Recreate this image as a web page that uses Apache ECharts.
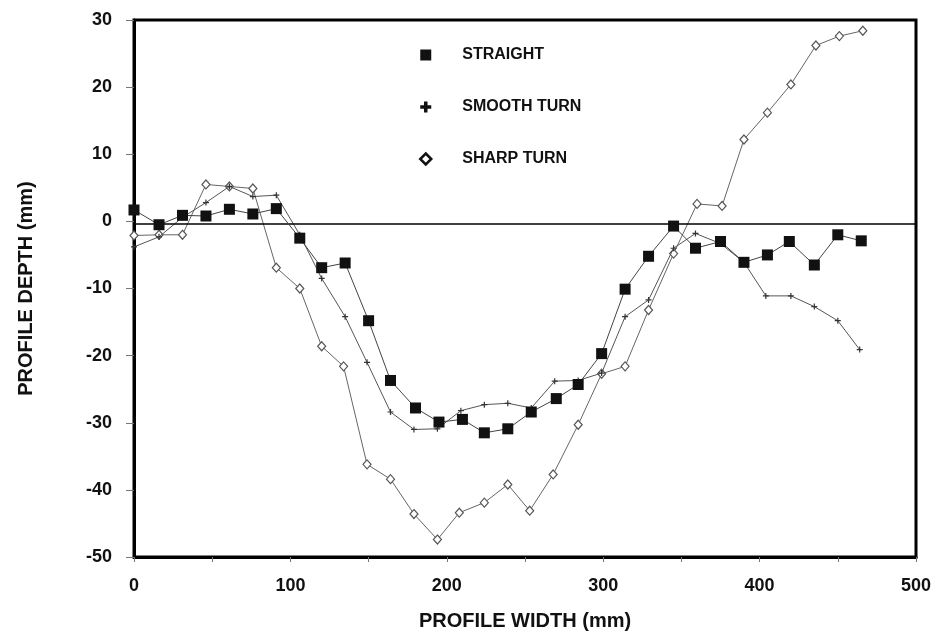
<!DOCTYPE html>
<html>
<head>
<meta charset="utf-8">
<script src="https://cdn.jsdelivr.net/npm/echarts@6/dist/echarts.min.js"></script>
<style>
  html, body { margin: 0; padding: 0; background: #fff; }
  #chart { width: 936px; height: 641px; }
</style>
</head>
<body>
<div id="chart"></div>
<script>
// Profile measurements (mm): width position vs. depth for three track types
const straightX = [0, 16, 31, 46, 61, 76, 91, 106, 120, 135, 150, 164, 180, 195, 210, 224, 239, 254, 270, 284, 299, 314, 329, 345, 359, 375, 390, 405, 419, 435, 450, 465];
const straightY = [1.7, -0.5, 0.9, 0.8, 1.8, 1.1, 1.9, -2.5, -6.9, -6.2, -14.8, -23.7, -27.8, -29.9, -29.5, -31.5, -30.9, -28.4, -26.4, -24.3, -19.7, -10.1, -5.2, -0.7, -4.0, -3.0, -6.1, -5.0, -3.0, -6.5, -2.0, -2.9];

const smoothX = [0, 16, 31, 46, 61, 76, 91, 106, 120, 135, 149, 164, 179, 194, 209, 224, 239, 254, 269, 284, 299, 314, 329, 345, 359, 375, 390, 404, 420, 435, 450, 464];
const smoothY = [-3.8, -2.3, 0.6, 2.8, 5.2, 3.7, 3.9, -2.0, -8.5, -14.2, -21.0, -28.4, -31.0, -30.9, -28.2, -27.3, -27.1, -27.8, -23.8, -23.7, -22.6, -14.2, -11.7, -4.0, -1.8, -3.3, -6.1, -11.1, -11.1, -12.7, -14.8, -19.1];

const sharpX = [0, 16, 31, 46, 61, 76, 91, 106, 120, 134, 149, 164, 179, 194, 208, 224, 239, 253, 268, 284, 299, 314, 329, 345, 360, 376, 390, 405, 420, 436, 451, 466];
const sharpY = [-2.1, -2.0, -2.0, 5.5, 5.2, 4.9, -6.9, -10.0, -18.6, -21.6, -36.2, -38.4, -43.6, -47.4, -43.4, -41.9, -39.2, -43.1, -37.7, -30.3, -22.7, -21.6, -13.2, -4.8, 2.6, 2.3, 12.2, 16.2, 20.4, 26.2, 27.6, 28.4];

const seriesNames = ['STRAIGHT', 'SMOOTH TURN', 'SHARP TURN'];
const xTicks = [0, 100, 200, 300, 400, 500];
const yTicks = [-50, -40, -30, -20, -10, 0, 10, 20, 30];
// horizontal reference line drawn just under the zero level
const baseLevel = -0.4;

const pairs = (xs, ys) => xs.map((x, i) => [x, ys[i]]);

const plusPath = 'path://M4,0H6V4H10V6H6V10H4V6H0V4H4Z';
const plusBold = 'path://M3.4,0H6.6V3.4H10V6.6H6.6V10H3.4V6.6H0V3.4H3.4Z';
const font = '"Liberation Sans", Arial, Helvetica, sans-serif';

const chart = echarts.init(document.getElementById('chart'), null, { renderer: 'canvas' });

chart.setOption({
  animation: false,
  backgroundColor: '#fff',
  grid: {
    left: 134, right: 20, top: 20, bottom: 84,
    show: true, borderColor: '#000', borderWidth: 3, backgroundColor: 'transparent'
  },
  legend: {
    orient: 'vertical',
    left: 414,
    top: 42,
    itemGap: 36,
    itemWidth: 11,
    itemHeight: 11,
    selectedMode: false,
    textStyle: {
      fontFamily: font, fontWeight: 'bold', fontSize: 16, color: '#111',
      padding: [0, 0, 0, 26]
    },
    data: [
      { name: seriesNames[0], icon: 'rect', itemStyle: { color: '#111', borderWidth: 0 } },
      { name: seriesNames[1], icon: plusBold, itemStyle: { color: '#111', borderWidth: 0 } },
      { name: seriesNames[2], icon: 'diamond', itemStyle: { color: '#fff', borderColor: '#111', borderWidth: 2.5 } }
    ]
  },
  xAxis: {
    type: 'value',
    min: 0, max: 500, interval: 100,
    axisLine: { show: true, onZero: false, lineStyle: { color: '#000', width: 3 } },
    axisTick: { show: true, length: 5, lineStyle: { color: '#777', width: 1 } },
    minorTick: { show: true, splitNumber: 2, length: 5, lineStyle: { color: '#777', width: 1 } },
    splitLine: { show: false },
    axisLabel: {
      fontFamily: font, fontWeight: 'bold', fontSize: 18, color: '#111', margin: 20,
      formatter: v => (xTicks.includes(v) ? String(v) : '')
    },
    name: 'PROFILE WIDTH (mm)',
    nameLocation: 'middle',
    nameGap: 54,
    nameTextStyle: { fontFamily: font, fontWeight: 'bold', fontSize: 20, color: '#111' }
  },
  yAxis: {
    type: 'value',
    min: -50, max: 30, interval: 10,
    axisLine: { show: true, onZero: false, lineStyle: { color: '#000', width: 3 } },
    axisTick: { show: true, length: 8, lineStyle: { color: '#777', width: 1 } },
    splitLine: { show: false },
    axisLabel: {
      fontFamily: font, fontWeight: 'bold', fontSize: 18, color: '#111', margin: 22,
      formatter: v => (yTicks.includes(v) ? String(v) : '')
    },
    name: 'PROFILE DEPTH (mm)',
    nameLocation: 'middle',
    nameGap: 98,
    nameTextStyle: { fontFamily: font, fontWeight: 'bold', fontSize: 20, color: '#111' }
  },
  series: [
    {
      name: seriesNames[2],
      type: 'line',
      data: pairs(sharpX, sharpY),
      symbol: 'diamond',
      symbolSize: [8, 9],
      showAllSymbol: true,
      lineStyle: { color: '#666', width: 1 },
      itemStyle: { color: '#fff', borderColor: '#555', borderWidth: 1.2 },
      z: 3
    },
    {
      name: seriesNames[1],
      type: 'line',
      data: pairs(smoothX, smoothY),
      symbol: plusPath,
      symbolSize: 6,
      showAllSymbol: true,
      lineStyle: { color: '#555', width: 1 },
      itemStyle: { color: '#333', borderWidth: 0 },
      z: 4
    },
    {
      name: seriesNames[0],
      type: 'line',
      data: pairs(straightX, straightY),
      symbol: 'rect',
      symbolSize: 11,
      showAllSymbol: true,
      lineStyle: { color: '#444', width: 1 },
      itemStyle: { color: '#111', borderWidth: 0 },
      z: 5,
      markLine: {
        silent: true,
        symbol: 'none',
        label: { show: false },
        lineStyle: { color: '#000', width: 1.5, type: 'solid' },
        data: [{ yAxis: baseLevel }]
      }
    }
  ]
});
</script>
</body>
</html>
